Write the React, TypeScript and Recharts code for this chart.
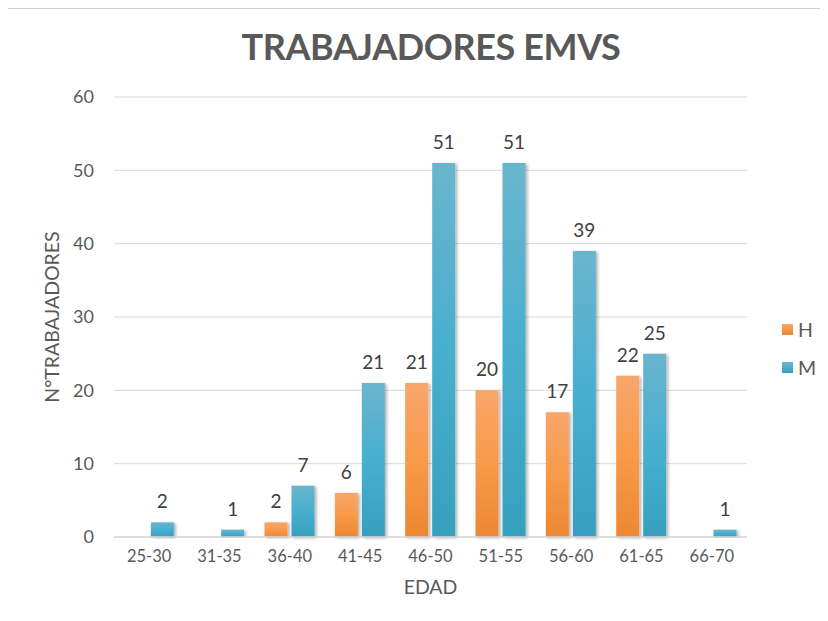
import { BarChart, Bar, XAxis, YAxis, CartesianGrid, LabelList, Label } from "recharts";

const ageGroups = ["25-30", "31-35", "36-40", "41-45", "46-50", "51-55", "56-60", "61-65", "66-70"];
const hombres = [0, 0, 2, 6, 21, 20, 17, 22, 0];
const mujeres = [2, 1, 7, 21, 51, 51, 39, 25, 1];
const yTicks = [0, 10, 20, 30, 40, 50, 60];

const data = ageGroups.map((edad, i) => ({ edad, H: hombres[i], M: mujeres[i] }));

const FONT = "Lato, 'Open Sans', sans-serif";
const TEXT = "#595959";

// Excel leaves zero bars unlabelled
const hideZero = (v: any) => (v === 0 ? "" : v);

export default function App() {
  return (
    <div
      style={{
        position: "relative",
        marginLeft: -1,
        width: 820,
        height: 612,
        borderTop: "1px solid #d0d0d0",
        borderLeft: "1px solid #d0d0d0",
        fontFamily: FONT,
      }}
    >
      <div
        style={{
          position: "absolute",
          left: 0,
          width: 846,
          top: 15,
          textAlign: "center",
          fontSize: 36,
          fontWeight: 700,
          color: TEXT,
          letterSpacing: -0.4,
        }}
      >
        TRABAJADORES EMVS
      </div>
      <BarChart
        width={820}
        height={612}
        data={data}
        margin={{ top: 88, right: 81, bottom: 0, left: 0 }}
        barCategoryGap="14%"
        barGap={4}
      >
        <defs>
          <linearGradient id="gradH" x1="0" y1="0" x2="0" y2="1">
            <stop offset="0%" stopColor="#F9A66C" />
            <stop offset="50%" stopColor="#F89A49" />
            <stop offset="100%" stopColor="#EC8733" />
          </linearGradient>
          <linearGradient id="gradM" x1="0" y1="0" x2="0" y2="1">
            <stop offset="0%" stopColor="#6AB5CE" />
            <stop offset="50%" stopColor="#48AFCF" />
            <stop offset="100%" stopColor="#36A0BF" />
          </linearGradient>
          <filter id="shadow" x="-20%" y="-5%" width="150%" height="115%">
            <feDropShadow dx="2" dy="1" stdDeviation="1.5" floodColor="#000" floodOpacity="0.3" />
          </filter>
        </defs>
        <CartesianGrid vertical={false} stroke="#d9d9d9" strokeWidth={1} />
        <XAxis
          dataKey="edad"
          height={84}
          axisLine={{ stroke: "#d9d9d9", strokeWidth: 1.5 }}
          tickLine={false}
          tickMargin={7}
          tick={{ fontSize: 16.5, fill: TEXT, fontFamily: FONT }}
          interval={0}
        >
          <Label value="EDAD" position="insideBottom" offset={27} style={{ fontSize: 19.5, fill: TEXT, fontFamily: FONT }} />
        </XAxis>
        <YAxis
          width={106}
          domain={[0, 60]}
          ticks={yTicks}
          axisLine={false}
          tickLine={false}
          tickMargin={14}
          tick={{ fontSize: 18, fill: TEXT, fontFamily: FONT }}
        >
          <Label
            value="N°TRABAJADORES"
            angle={-90}
            position="insideLeft"
            offset={44}
            style={{ textAnchor: "middle", fontSize: 19.5, fill: TEXT, fontFamily: FONT }}
          />
        </YAxis>
        <Bar dataKey="H" fill="url(#gradH)" filter="url(#shadow)" isAnimationActive={false}>
          <LabelList dataKey="H" position="top" offset={14} formatter={hideZero} style={{ fontSize: 19, fill: "#404040", fontFamily: FONT }} />
        </Bar>
        <Bar dataKey="M" fill="url(#gradM)" filter="url(#shadow)" isAnimationActive={false}>
          <LabelList dataKey="M" position="top" offset={14} formatter={hideZero} style={{ fontSize: 19, fill: "#404040", fontFamily: FONT }} />
        </Bar>
      </BarChart>
      <div style={{ position: "absolute", left: 774, top: 308, color: TEXT, fontSize: 19.5 }}>
        <div style={{ display: "flex", alignItems: "center", height: 24, marginBottom: 14 }}>
          <span style={{ width: 11, height: 11, background: "linear-gradient(#F9A66C, #EC8733)", marginRight: 5 }} />
          H
        </div>
        <div style={{ display: "flex", alignItems: "center", height: 24 }}>
          <span style={{ width: 11, height: 11, background: "linear-gradient(#6AB5CE, #36A0BF)", marginRight: 5 }} />
          M
        </div>
      </div>
    </div>
  );
}
